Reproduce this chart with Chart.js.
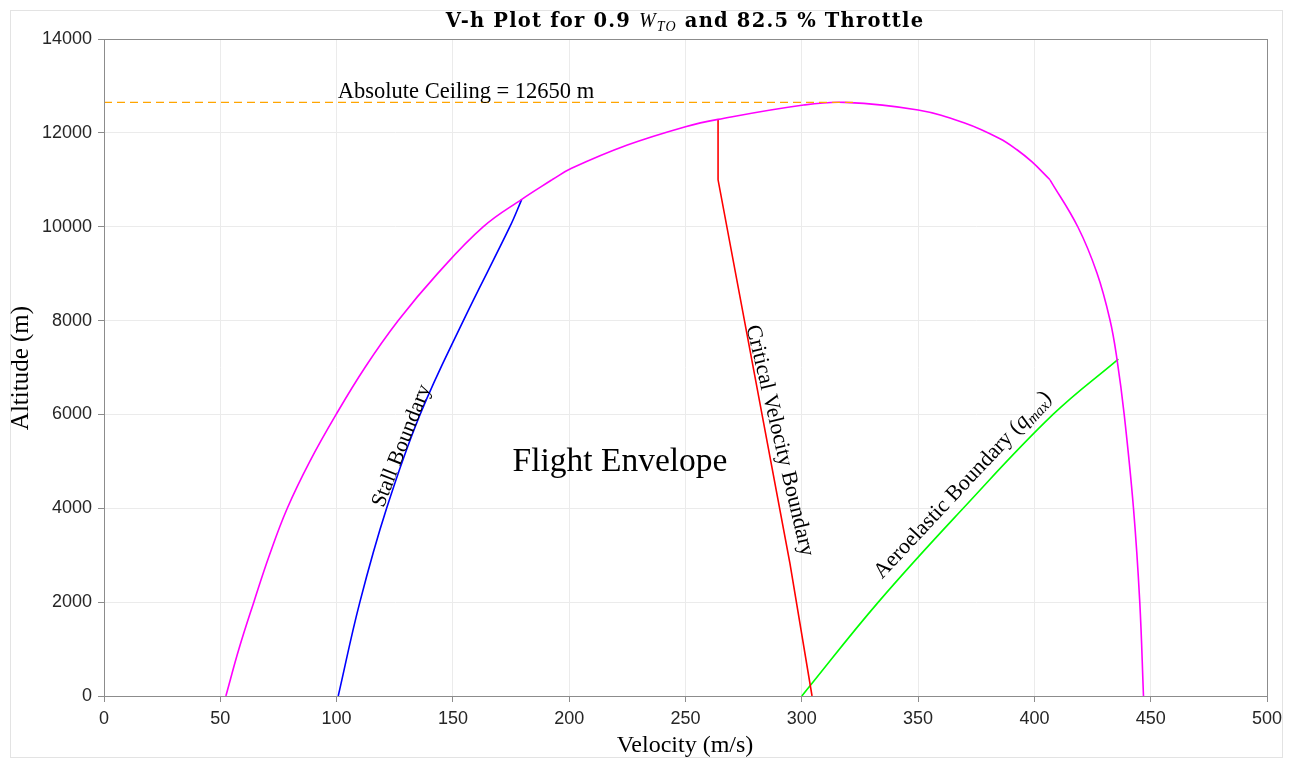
<!DOCTYPE html>
<html>
<head>
<meta charset="utf-8">
<script src="https://cdn.jsdelivr.net/npm/chart.js@4.4.0/dist/chart.umd.min.js"></script>
<style>
  html, body { margin: 0; padding: 0; background: #fff; }
</style>
</head>
<body>
<canvas id="vhChart" width="1294" height="761"></canvas>
<script>
// flight envelope, split at the 11000 m kinks: low-left, top arc, low-right
const envLeftV = [52.4, 58.0, 64.4, 71.1, 78.8, 88.5, 99.8, 112.2, 126.5, 143.4, 163.1, 179.6, 192.6];
const envLeftH = [0, 1000, 2000, 3000, 4000, 5000, 6000, 7000, 8000, 9000, 10000, 10583, 11000];

const envTopV = [192.6, 201, 225, 250, 264, 300.8, 318.4, 350, 370, 385, 392.5, 399, 406.7];
const envTopH = [11000, 11244, 11740, 12131, 12287, 12593, 12650, 12487, 12210, 11880, 11640, 11380, 11000];

const envRightV = [406.7, 418.7, 426.9, 432.5, 435.5, 438.6, 442.6, 445.3, 446.9];
const envRightH = [11000, 9994, 9013, 8012, 7180, 6000, 4000, 2000, 0];

const stallV = [100.7, 110, 121.5, 135.9, 154.5, 174.5, 179.6];
const stallH = [0, 2000, 4000, 6000, 8000, 10000, 10583];

const criticalV = [264, 264, 294.9, 304.4];
const criticalH = [12287, 11000, 2828, 0];

const aeroV = [300, 332.9, 369.4, 408, 436.1];
const aeroH = [0, 2000, 4000, 6000, 7180];

const ceilingV = [0, 324];
const ceilingH = [12650, 12650];

const xTicks = [0, 50, 100, 150, 200, 250, 300, 350, 400, 450, 500];
const yTicks = [0, 2000, 4000, 6000, 8000, 10000, 12000, 14000];

function toPoints(vs, hs) {
  return vs.map((v, i) => ({ x: v, y: hs[i] }));
}

const serif = '"Liberation Serif", "DejaVu Serif", serif';
const wideSerif = '"DejaVu Serif", "Liberation Serif", serif';
const sans = '"Liberation Sans", Arial, sans-serif';

// draw a line of mixed-font text centred at (x, y), rotated by angle degrees
function drawRich(ctx, parts, x, y, angle, spacing) {
  ctx.save();
  ctx.translate(x, y);
  ctx.rotate((angle || 0) * Math.PI / 180);
  ctx.textBaseline = "alphabetic";
  ctx.textAlign = "left";
  ctx.fillStyle = "#000";
  ctx.letterSpacing = (spacing || 0) + "px";
  let total = 0;
  parts.forEach(p => { ctx.font = p[1]; total += ctx.measureText(p[0]).width; });
  let cx = -total / 2;
  parts.forEach(p => {
    ctx.font = p[1];
    ctx.fillText(p[0], cx, p[2] || 0);
    cx += ctx.measureText(p[0]).width;
  });
  ctx.restore();
}

const decorations = {
  id: "decorations",
  beforeDraw(chart) {
    const ctx = chart.ctx;
    ctx.save();
    ctx.fillStyle = "#fff";
    ctx.fillRect(0, 0, chart.width, chart.height);
    ctx.strokeStyle = "#e3e3e3";
    ctx.lineWidth = 1;
    ctx.strokeRect(10.5, 10.5, 1272, 747);
    ctx.restore();
  },
  afterDraw(chart) {
    const ctx = chart.ctx;
    const a = chart.chartArea;
    ctx.save();
    ctx.strokeStyle = "#8c8c8c";
    ctx.lineWidth = 1;
    ctx.strokeRect(Math.round(a.left) + 0.5, Math.round(a.top) + 0.5, Math.round(a.right - a.left), Math.round(a.bottom - a.top));
    ctx.restore();

    // title
    drawRich(ctx, [
      ["V-h Plot for 0.9 ", "bold 19.5px " + wideSerif],
      ["W", "italic 20px " + serif],
      ["TO", "italic 14px " + serif, 4],
      [" and 82.5 % Throttle", "bold 19.5px " + wideSerif]
    ], 685, 27, 0, 1.2);

    // axis titles
    drawRich(ctx, [["Velocity (m/s)", "24px " + serif]], 685, 752, 0);
    drawRich(ctx, [["Altitude (m)", "25px " + serif]], 28, 368, -90);

    // annotations
    drawRich(ctx, [["Absolute Ceiling = 12650 m", "22.5px " + serif]], 466, 98, 0);
    drawRich(ctx, [["Flight Envelope", "33.5px " + serif]], 620, 471, 0);
    drawRich(ctx, [["Stall Boundary", "21.5px " + serif]], 407, 448, -68.7);
    drawRich(ctx, [["Critical Velocity Boundary", "22px " + serif]], 774, 442, 76.5);
    drawRich(ctx, [
      ["Aeroelastic Boundary (", "22px " + serif],
      ["q", "italic 22px " + serif],
      ["max", "italic 15px " + serif, 4],
      [")", "22px " + serif]
    ], 967, 489, -46.8);
  }
};

const ctx = document.getElementById("vhChart").getContext("2d");

function curve(label, vs, hs, color, tension) {
  return {
    label: label,
    data: toPoints(vs, hs),
    showLine: true,
    pointRadius: 0,
    borderWidth: 1.6,
    borderColor: color,
    fill: false,
    tension: tension
  };
}

const ceiling = curve("Ceiling", ceilingV, ceilingH, "#ffa500", 0);
ceiling.borderDash = [8, 5];
ceiling.borderWidth = 1.4;

new Chart(ctx, {
  type: "scatter",
  data: {
    datasets: [
      ceiling,
      curve("Envelope", envLeftV, envLeftH, "#ff00ff", 0.4),
      curve("Envelope top", envTopV, envTopH, "#ff00ff", 0.4),
      curve("Envelope right", envRightV, envRightH, "#ff00ff", 0.4),
      curve("Stall Boundary", stallV, stallH, "#0000ff", 0.4),
      curve("Critical Velocity Boundary", criticalV, criticalH, "#ff0000", 0),
      curve("Aeroelastic Boundary", aeroV, aeroH, "#00ff00", 0.4)
    ]
  },
  options: {
    responsive: false,
    animation: false,
    layout: { padding: { top: 39, right: 27, left: 0, bottom: 0 } },
    plugins: {
      legend: { display: false },
      tooltip: { enabled: false },
      title: { display: false }
    },
    scales: {
      x: {
        type: "linear",
        min: 0,
        max: 500,
        afterBuildTicks: s => { s.ticks = xTicks.map(v => ({ value: v })); },
        afterFit: s => { s.height = 65; },
        grid: { color: "#ebebeb", tickColor: "#8c8c8c", tickLength: 6 },
        border: { color: "#8c8c8c" },
        ticks: { color: "#262626", font: { family: sans, size: 18 }, padding: 6, maxRotation: 0, callback: v => String(v) }
      },
      y: {
        type: "linear",
        min: 0,
        max: 14000,
        afterBuildTicks: s => { s.ticks = yTicks.map(v => ({ value: v })); },
        afterFit: s => { s.width = 104; },
        grid: { color: "#ebebeb", tickColor: "#8c8c8c", tickLength: 6 },
        border: { color: "#8c8c8c" },
        ticks: { color: "#262626", font: { family: sans, size: 18 }, padding: 6, callback: v => String(v) }
      }
    }
  },
  plugins: [decorations]
});
</script>
</body>
</html>
